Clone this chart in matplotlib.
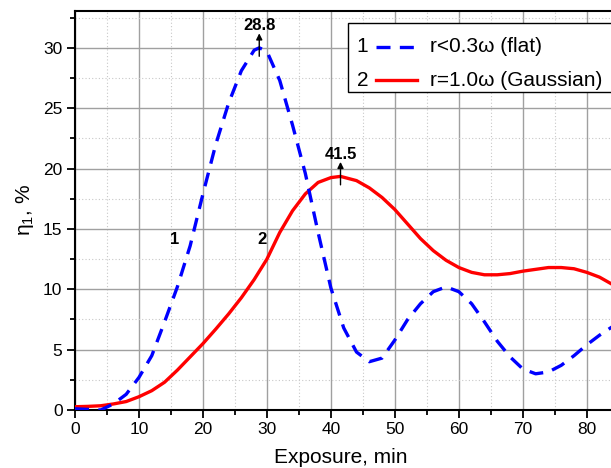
import matplotlib
matplotlib.use("Agg")
import matplotlib.pyplot as plt
from matplotlib.ticker import MultipleLocator
from matplotlib.patches import Rectangle
from matplotlib.lines import Line2D

plt.rcParams['font.family'] = ['Liberation Sans', 'DejaVu Sans']
plt.rcParams['mathtext.fontset'] = 'custom'
plt.rcParams['mathtext.rm'] = 'Liberation Sans'
plt.rcParams['mathtext.it'] = 'Liberation Sans'

# Curve 1: flat-top beam, r < 0.3 w
flat_x = [0, 2, 4, 6, 8, 10, 12, 14, 16, 18, 20, 22, 24, 26, 28, 28.8, 30,
          32, 34, 36, 38, 40, 42, 44, 46, 48, 50, 52, 54, 56, 58, 60, 62,
          64, 66, 68, 70, 72, 74, 76, 78, 80, 82, 84, 86]
flat_y = [0.1, 0.05, 0.0, 0.5, 1.3, 2.7, 4.5, 7.3, 10.2, 13.6, 17.9, 22.0,
          25.4, 28.1, 29.8, 30.0, 29.7, 27.3, 23.6, 19.6, 14.7, 10.1, 6.8,
          4.8, 4.0, 4.3, 5.8, 7.5, 8.8, 9.8, 10.2, 9.8, 8.8, 7.3, 5.7, 4.4,
          3.4, 3.0, 3.15, 3.7, 4.5, 5.4, 6.2, 6.9, 7.5]

# Curve 2: Gaussian beam, r = 1.0 w
gauss_x = [0, 2, 4, 6, 8, 10, 12, 14, 16, 18, 20, 22, 24, 26, 28, 30, 32,
           34, 36, 38, 40, 41.5, 44, 46, 48, 50, 52, 54, 56, 58, 60, 62, 64,
           66, 68, 70, 72, 74, 76, 78, 80, 82, 84, 86]
gauss_y = [0.27, 0.3, 0.35, 0.5, 0.7, 1.1, 1.6, 2.3, 3.3, 4.4, 5.5, 6.7,
           7.95, 9.3, 10.8, 12.5, 14.7, 16.5, 17.9, 18.85, 19.25, 19.35,
           19.0, 18.4, 17.6, 16.6, 15.4, 14.2, 13.2, 12.4, 11.8, 11.4, 11.2,
           11.2, 11.3, 11.5, 11.65, 11.8, 11.8, 11.7, 11.4, 11.0, 10.4, 9.8]

# Peak positions (exposure, min) and peak heights
peak_flat = (28.8, 30.0)
peak_gauss = (41.5, 19.35)

legend_labels = ["r<0.3\u03c9 (flat)", "r=1.0\u03c9 (Gaussian)"]

fig = plt.figure(figsize=(6.11, 4.68), dpi=100)
ax = fig.add_axes([75 / 611, 58 / 468, 1.04 - 75 / 611, 399 / 468])

ax.plot(gauss_x, gauss_y, color='#ff0000', lw=2.4, zorder=3,
        solid_capstyle='round')
ax.plot(flat_x, flat_y, color='#0000ff', lw=2.4, zorder=4,
        dashes=(4.2, 2.8))

ax.set_xlim(0, 87.6)
ax.set_ylim(0, 33.05)

ax.xaxis.set_major_locator(MultipleLocator(10))
ax.xaxis.set_minor_locator(MultipleLocator(5))
ax.yaxis.set_major_locator(MultipleLocator(5))
ax.yaxis.set_minor_locator(MultipleLocator(2.5))

ax.grid(which='major', color='#a0a0a0', lw=1.0, ls='-')
ax.grid(which='minor', color='#c8c8c8', lw=0.8, ls=(0, (1, 2)))
ax.set_axisbelow(True)

for side in ['left', 'bottom', 'top']:
    ax.spines[side].set_linewidth(1.5)
    ax.spines[side].set_color('black')
ax.spines['right'].set_visible(False)

ax.tick_params(which='major', direction='out', length=6, width=1.3,
               labelsize=12.5, pad=3, top=False, right=False)
ax.tick_params(which='minor', direction='out', length=3.5, width=1.3,
               top=False, right=False)

ax.set_xlabel('Exposure, min', fontsize=15)
ax.xaxis.set_label_coords(0.475, -0.095)
ax.set_ylabel('\u03b7$_1$, %', fontsize=15, labelpad=5)

# Peak markers
for (px, py), txt in [(peak_flat, '28.8'), (peak_gauss, '41.5')]:
    ax.annotate('', xy=(px, py + 1.2), xytext=(px, py - 0.7),
                arrowprops=dict(arrowstyle='-|>', color='black', lw=1.0,
                                mutation_scale=9, shrinkA=0, shrinkB=0),
                zorder=6)
    ax.text(px, py + 1.85, txt, ha='center', va='center', fontsize=12,
            fontweight='bold', zorder=6)

# Curve numbers
ax.text(15.6, 14.1, '1', ha='center', va='center', fontsize=12,
        fontweight='bold')
ax.text(29.2, 14.1, '2', ha='center', va='center', fontsize=12,
        fontweight='bold')

# Legend box
tr = ax.transAxes
ax.add_patch(Rectangle((0.4875, 0.796), 0.6, 0.173, transform=tr,
                       facecolor='white', edgecolor='black', lw=1.0,
                       zorder=7, clip_on=False))
rows = [(0.9105, dict(color='#0000ff', dashes=(4.2, 2.8))),
        (0.827, dict(color='#ff0000'))]
for i, ((ry, style), lab) in enumerate(zip(rows, legend_labels)):
    ax.text(0.513, ry, str(i + 1), transform=tr, ha='center', va='center',
            fontsize=15, zorder=8)
    ax.add_line(Line2D([0.537, 0.6095], [ry, ry], transform=tr, lw=2.4,
                       zorder=8, clip_on=False, **style))
    ax.text(0.633, ry, lab, transform=tr, ha='left', va='center',
            fontsize=15, zorder=8)

fig.savefig('out.png', dpi=100)
